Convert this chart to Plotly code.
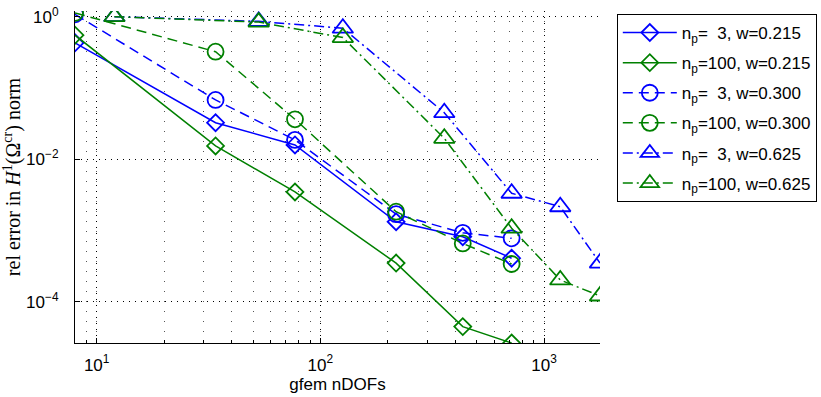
import plotly.graph_objects as go
import numpy as np

x_dc = [8, 34, 77, 218, 433, 716]
x_tri = [12, 53, 126, 358, 716, 1181, 1778]

dia_np3 = [0.43, 0.0326, 0.0159, 0.00133, 8.2e-4, 4.1e-4]
dia_np100 = [0.55, 0.0154, 0.00348, 3.5e-4, 4.5e-5, 2.65e-5]
cir_np3 = [1.08, 0.068, 0.0187, 0.0017, 9.3e-4, 7.8e-4]
cir_np100 = [1.13, 0.323, 0.0364, 0.00184, 6.6e-4, 3.4e-4]
tri_np3 = [1.0, 0.86, 0.69, 0.045, 0.00334, 0.00216, 3.5e-4]
tri_np100 = [1.0, 0.84, 0.51, 0.0197, 0.00108, 2.03e-4, 1.21e-4]

labels = [
    "n<sub>p</sub>=\u00a0\u00a03, w=0.215",
    "n<sub>p</sub>=100, w=0.215",
    "n<sub>p</sub>=\u00a0\u00a03, w=0.300",
    "n<sub>p</sub>=100, w=0.300",
    "n<sub>p</sub>=\u00a0\u00a03, w=0.625",
    "n<sub>p</sub>=100, w=0.625",
]

BLUE = "#0000FF"
GREEN = "#008000"
DASH = "10px,6px"
DASHDOT = "10px,4px,2px,4px"

series = [
    (x_dc, dia_np3, BLUE, "solid", "diamond-open", 13),
    (x_dc, dia_np100, GREEN, "solid", "diamond-open", 13),
    (x_dc, cir_np3, BLUE, DASH, "circle-open", 16),
    (x_dc, cir_np100, GREEN, DASH, "circle-open", 16),
    (x_tri, tri_np3, BLUE, DASHDOT, "triangle-up-open", 18),
    (x_tri, tri_np100, GREEN, DASHDOT, "triangle-up-open", 18),
]

fig = go.Figure()
for (xs, ys, col, dash, sym, sz), lab in zip(series, labels):
    fig.add_trace(go.Scatter(
        x=xs, y=ys, name=lab, legendgroup=lab, mode="lines+markers",
        line=dict(color=col, width=1.5, dash=dash),
        marker=dict(symbol=sym, size=sz, color=col, line=dict(color=col, width=1.8)),
    ))

font_sans = "Liberation Sans, Arial, sans-serif"
fig.update_layout(
    width=821, height=397,
    margin=dict(l=75, r=221, t=11, b=54, autoexpand=False),
    paper_bgcolor="white", plot_bgcolor="white",
    font=dict(family=font_sans, size=17, color="black"),
    showlegend=True,
    legend=dict(
        x=1.032, y=0.991, xanchor="left", yanchor="top",
        bordercolor="black", borderwidth=1, bgcolor="white",
        font=dict(family=font_sans, size=17, color="black"),
        itemwidth=54, tracegroupgap=5,
    ),
    xaxis=dict(
        type="log", range=[np.log10(8), np.log10(1778)],
        tickvals=[10, 100, 1000],
        ticktext=["10<sup>1</sup>", "10<sup>2</sup>", "10<sup>3</sup>"],
        ticks="inside", ticklen=5, tickcolor="black",
        showline=True, linecolor="black", linewidth=1.2,
        showgrid=True, gridcolor="black", griddash="1px,5px", gridwidth=1,
        minor=dict(dtick="D1", showgrid=True, gridcolor="#555", griddash="1px,9px",
                   ticks="inside", ticklen=3, tickcolor="black"),
        zeroline=False, mirror=False, automargin=False,
        title=dict(text="gfem nDOFs", font=dict(family=font_sans, size=17), standoff=4),
        tickfont=dict(family=font_sans, size=17),
        ticklabelstandoff=6,
    ),
    yaxis=dict(
        type="log", range=[np.log10(2.65e-5), 0.08],
        tickvals=[1e-4, 1e-2, 1],
        ticktext=["10<sup>\u22124</sup>", "10<sup>\u22122</sup>", "10<sup>0</sup>"],
        ticks="inside", ticklen=5, tickcolor="black",
        showline=True, linecolor="black", linewidth=1.2,
        showgrid=True, gridcolor="black", griddash="1px,5px", gridwidth=1,
        zeroline=False, mirror=False, automargin=False,
        title=dict(text="rel error in <i>H</i><sup>1</sup>(\u03a9<sup>cr</sup>) norm",
                   font=dict(family="Liberation Serif, Times New Roman, serif", size=20),
                   standoff=0),
        tickfont=dict(family=font_sans, size=17),
        ticklabelstandoff=12,
    ),
)

fig.write_html("out.html")
